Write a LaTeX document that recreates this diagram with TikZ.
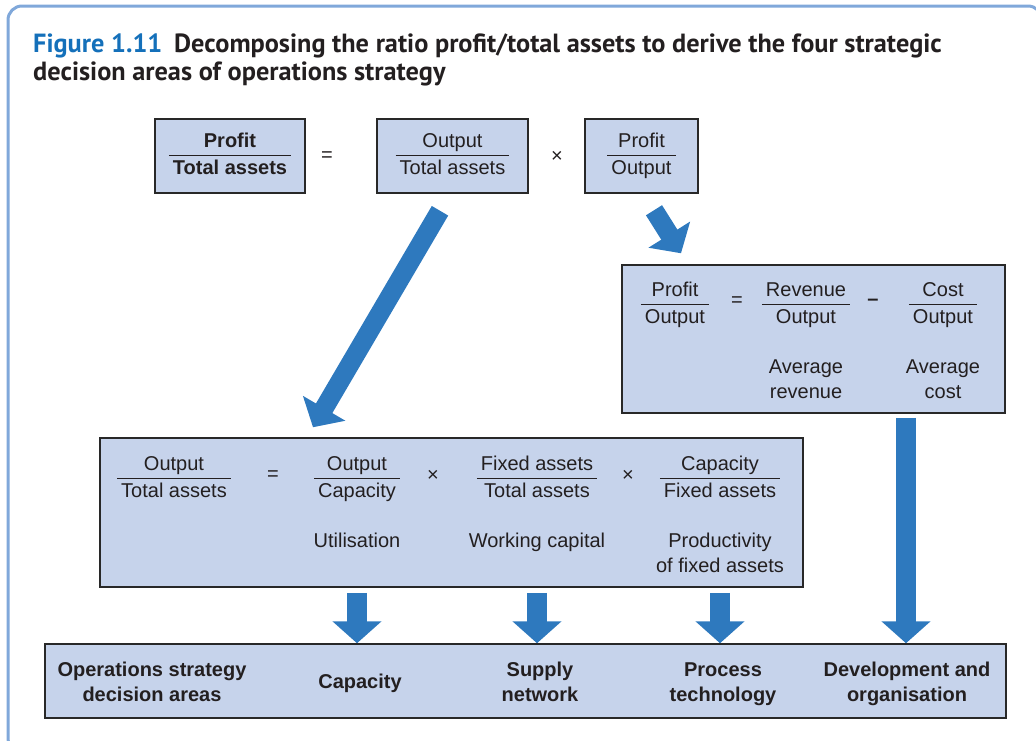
\documentclass[tikz,border=0pt]{standalone}
\usepackage{fontspec}
\setmainfont{Liberation Sans}
\newfontfamily\titlefont{PT Sans}
\usetikzlibrary{arrows.meta}

\setlength{\arrayrulewidth}{1.3pt}
\newcommand{\frc}[2]{\begin{tabular}{@{\hspace{4pt}}c@{\hspace{4pt}}}#1\\[-0.5pt]\hline\rule{0pt}{18.5pt}#2\end{tabular}}

\begin{document}
\begin{tikzpicture}[x=1pt,y=-1pt,
  box/.style={draw=boxline,fill=boxfill,line width=1.5pt,inner sep=0pt},
  txt/.style={font=\fontsize{20}{25}\selectfont,text=ink,align=center,inner sep=0pt},
  btxt/.style={txt,font=\fontsize{20}{25}\selectfont\bfseries},
  lbl/.style={execute at begin node=\strut,execute at end node=\strut},
  bigarrow/.style={draw=arrowblue,line width=19pt,-{Triangle[width=48pt,length=22pt]}}]
\definecolor{boxfill}{RGB}{198,211,235}
\definecolor{boxline}{RGB}{40,40,40}
\definecolor{arrowblue}{RGB}{46,121,190}
\definecolor{figblue}{RGB}{20,112,186}
\definecolor{framec}{RGB}{128,168,218}
\definecolor{ink}{RGB}{35,31,32}
\useasboundingbox (0,0) rectangle (1036,740);
\draw[framec,line width=3pt,rounded corners=14pt] (8,6) rectangle (1042,752);

\node[anchor=base west,inner sep=0pt,text=ink,font=\titlefont\fontsize{26.3}{30}\selectfont\bfseries] (ttl1) at (33,52)
  {\textcolor{figblue}{Figure 1.11}\hspace{0.45em}Decomposing the ratio profit/total assets to derive the four strategic};
\node[anchor=base west,inner sep=0pt,text=ink,font=\titlefont\fontsize{26.3}{30}\selectfont\bfseries] (ttl2) at (33,80)
  {decision areas of operations strategy};

% top row
\node[box,btxt,minimum width=150pt,minimum height=74pt] (pta) at (230,156) {\frc{Profit}{Total assets}};
\node[txt] (eq1) at (327,157) {=};
\node[box,txt,minimum width=151pt,minimum height=74pt] (ota) at (452.5,156) {\frc{Output}{Total assets}};
\node[txt] (x1) at (557,157) {\texttimes};
\node[box,txt,minimum width=113pt,minimum height=74pt] (ppo) at (641.5,156) {\frc{Profit}{Output}};

% profit per output
\node[box,minimum width=383pt,minimum height=148pt] (prof) at (813.5,339) {};
\node[txt] (pofr) at (675,305) {\frc{Profit}{Output}};
\node[txt] (eq2) at (737,302) {=};
\node[txt] (rofr) at (806,305) {\frc{Revenue}{Output}};
\node[txt] (mn) at (873,302) {\textbf{--}};
\node[txt] (cofr) at (943,305) {\frc{Cost}{Output}};
\node[txt,lbl] (avr) at (806,382.7) {Average\\revenue};
\node[txt,lbl] (avc) at (943,382.7) {Average\\cost};

% output per total assets
\node[box,minimum width=703pt,minimum height=149pt] (ope) at (451.5,512.5) {};
\node[txt] (otfr) at (174,479) {\frc{Output}{Total assets}};
\node[txt] (eq3) at (273,476) {=};
\node[txt] (ocfr) at (357,479) {\frc{Output}{Capacity}};
\node[txt] (x2) at (433,476) {\texttimes};
\node[txt] (ftfr) at (537,479) {\frc{Fixed assets}{Total assets}};
\node[txt] (x3) at (628,476) {\texttimes};
\node[txt] (cffr) at (720,479) {\frc{Capacity}{Fixed assets}};
\node[txt,lbl] (util) at (357,542) {Utilisation};
\node[txt,lbl] (wcap) at (537,542) {Working capital};
\node[txt,lbl] (prod) at (720,556.7) {Productivity\\of fixed assets};

% decision areas
\node[box,minimum width=961pt,minimum height=74pt] (dec) at (525.5,681) {};
\foreach \nm/\pos/\yy/\lbl in {osda/152/685.5/Operations strategy\\decision areas,cap/360/683.5/Capacity,
  sup/540/685.5/Supply\\network,ptec/723/685.5/Process\\technology,dev/907/685.5/Development and\\organisation}
  {\node[btxt,lbl] (\nm) at (\pos,\yy) {\lbl};}

\draw[bigarrow] ([shift={(-12.5,17)}]ota.south) -- ([shift={(-138.5,-10)}]ope.north);
\draw[bigarrow] ([shift={(12.5,16.5)}]ppo.south) -- ([shift={(-132.5,-11)}]prof.north);
\coordinate (dv) at ([shift={(92.5,4)}]prof.south);
\draw[bigarrow,line width=20pt] (dv) -- (dv |- dec.north);
\foreach \src in {util,wcap,prod}
  {\coordinate (\src-a) at (\src |- ope.south);
   \draw[bigarrow,line width=20pt] ([yshift=-5pt]\src-a) -- (\src-a |- dec.north);}
\end{tikzpicture}
\end{document}
